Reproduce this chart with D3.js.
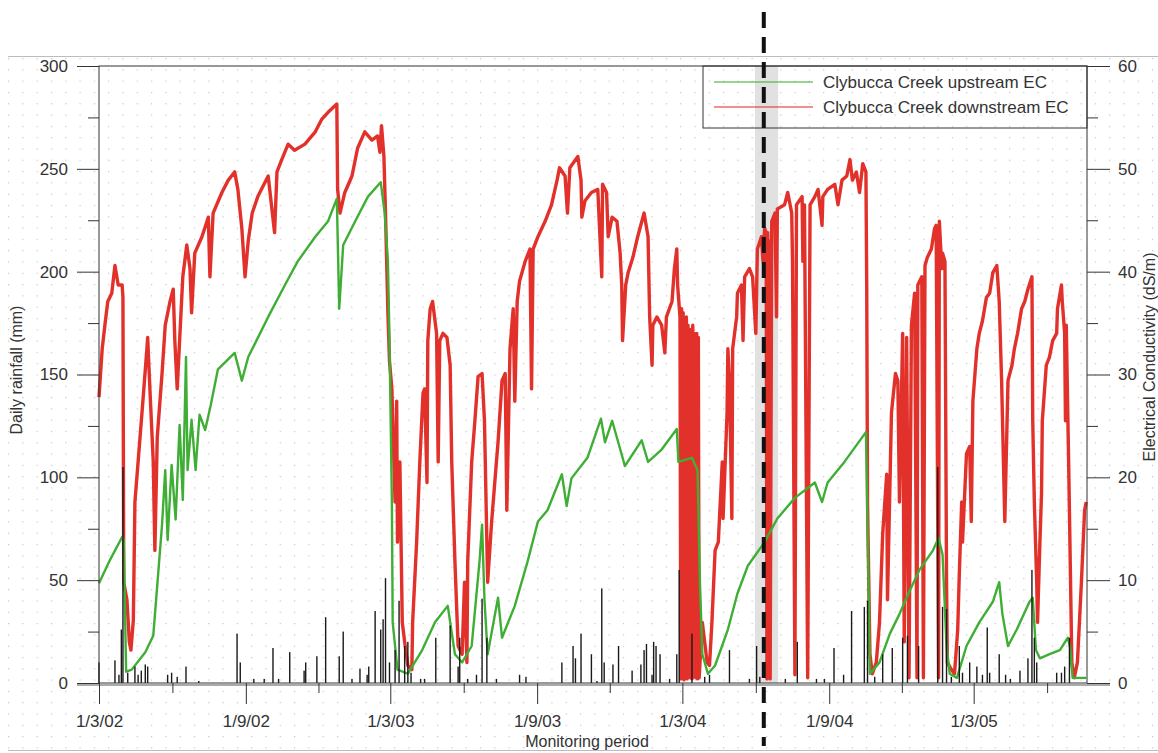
<!DOCTYPE html>
<html lang="en">
<head>
<meta charset="utf-8">
<title>Clybucca Creek EC and daily rainfall</title>
<script src="https://cdn.jsdelivr.net/npm/d3@7"></script>
<style>
  body { margin: 0; background: #fff; }
  text { font-family: Arial, "Liberation Sans", sans-serif; fill: #333; }
</style>
</head>
<body>
<script>
// All series are [days since 1 March 2002, value]

var startDate = new Date(2002, 2, 1);
var endDate = new Date(2005, 6, 21);

// daily rainfall (mm)
var rainfall = [[0,10],[20,11],[25,4],[28,26],[30,105],[36,5],[45,8],[49,4],[53,6],[58,9],[61,8],[86,4],[91,5],[98,3],[109,8],[125,1],
  [173,24],[177,10],[194,2],[207,2],[218,17],[225,2],[239,15],[257,6],[259,10],[273,13],[284,32],[301,13],[306,25],[317,2],[327,7],
  [336,4],[338,8],[346,35],[353,26],[356,31],[359,51],[364,10],[371,16],[376,40],[383,18],[387,20],[391,5],[403,2],[408,2],[422,22],
  [440,28],[450,8],[452,22],[462,2],[473,4],[480,41],[486,22],[498,2],[527,4],[535,3],[580,10],[594,18],[597,12],[604,24],[617,14],
  [624,1],[630,46],[633,10],[644,9],[651,18],[668,6],[679,9],[683,16],[686,19],[693,4],[695,20],[698,18],[703,14],[715,2],[724,14],
  [727,55],[743,24],[759,3],[765,4],[790,16],[815,2],[824,18],[828,3],[860,2],[875,20],[899,2],[909,2],[921,17],[933,4],[943,35],
  [959,37],[963,40],[972,3],[982,14],[994,17],[1007,22],[1013,23],[1027,18],[1051,105],[1057,37],[1062,36],[1068,3],[1078,18],
  [1082,5],[1091,10],[1100,8],[1107,4],[1113,27],[1116,5],[1128,14],[1136,4],[1142,2],[1154,6],[1164,12],[1169,55],[1172,22],
  [1175,10],[1200,5],[1206,5],[1210,8],[1216,22]];

// upstream EC (dS/m)
var upstreamEC = [[0,9.7],[14,12.0],[29,14.2],[31,13.9],[34,1.1],[41,1.3],[58,3.0],[68,4.6],[73,9.5],[79,15.4],[83,20.7],[86,13.9],
  [91,21.2],[96,15.9],[101,25.1],[105,17.8],[109,31.7],[111,20.7],[116,25.6],[121,20.7],[126,26.1],[133,24.6],[140,27.0],[149,30.5],
  [170,32.1],[179,29.4],[187,31.7],[212,35.6],[233,38.7],[249,41.0],[271,43.4],[287,44.9],[298,47.1],[301,36.4],[306,42.6],[321,44.9],
  [337,47.3],[353,48.7],[358,45.7],[362,41.0],[364,33.3],[367,17.6],[368,5.9],[374,1.3],[387,0.9],[405,3.2],[421,5.9],[437,7.5],
  [446,2.8],[455,2.0],[467,3.6],[477,12.0],[480,15.4],[483,8.1],[487,2.8],[500,8.3],[505,4.4],[521,7.5],[537,11.8],[550,15.7],
  [562,16.8],[580,20.3],[586,17.2],[592,19.9],[612,21.9],[629,25.7],[634,23.4],[643,25.5],[659,21.1],[680,23.6],[688,21.5],[705,22.7],
  [724,24.7],[726,21.5],[743,21.9],[750,20.7],[753,9.8],[756,2.8],[763,0.9],[772,1.7],[788,5.2],[800,8.7],[813,11.4],[834,13.7],
  [850,16.0],[872,18.0],[897,19.5],[906,17.6],[913,19.5],[934,21.5],[961,24.4],[963,15.7],[966,0.9],[978,2.0],[991,4.8],[1003,6.7],
  [1016,9.0],[1028,11.0],[1045,12.9],[1052,14.1],[1057,12.5],[1062,3.6],[1066,0.9],[1075,0.5],[1087,3.6],[1103,5.9],[1120,7.9],
  [1128,9.8],[1132,6.7],[1139,3.6],[1150,5.2],[1166,7.9],[1170,8.3],[1174,3.2],[1179,2.4],[1191,2.8],[1204,3.2],[1214,4.4],
  [1217,3.4],[1220,0.5],[1237,0.5]];

// downstream EC (dS/m)
var downstreamEC = [[0,27.8],[4,32.5],[8,35.2],[11,37.1],[16,37.9],[20,40.6],[24,38.7],[29,38.7],[30,37.5],[31,9.8],[35,8.1],[38,4.0],
  [40,3.2],[43,6.1],[45,17.6],[49,21.5],[55,27.4],[60,32.5],[61,33.6],[64,28.2],[68,21.5],[70,12.9],[73,23.9],[79,30.1],[83,34.8],
  [89,37.1],[93,38.3],[95,33.3],[98,28.6],[101,33.3],[105,39.5],[110,42.6],[114,40.3],[116,36.0],[120,41.8],[129,43.4],[137,45.3],
  [139,39.5],[143,45.7],[154,47.7],[162,48.9],[170,49.7],[174,48.0],[179,44.2],[183,39.5],[187,43.0],[192,45.7],[199,47.3],[212,49.3],
  [220,43.8],[223,49.7],[229,50.9],[237,52.4],[245,51.8],[258,52.4],[271,53.6],[279,54.8],[287,55.5],[298,56.3],[299,48.0],[302,45.7],
  [308,47.7],[317,49.3],[324,52.0],[333,53.6],[342,52.8],[349,53.2],[352,51.6],[354,54.2],[357,51.2],[359,45.7],[362,36.0],[364,31.3],
  [367,28.6],[368,25.5],[371,17.6],[373,27.4],[374,13.7],[377,21.5],[380,5.9],[383,4.0],[387,1.7],[392,1.3],[393,5.9],[398,13.7],
  [402,21.5],[406,28.2],[408,28.6],[411,19.5],[412,33.3],[415,36.4],[418,37.1],[423,34.0],[425,21.5],[427,33.3],[431,34.0],[436,33.6],
  [440,30.9],[442,21.5],[446,11.8],[450,3.6],[455,2.8],[458,9.8],[461,2.0],[462,11.8],[467,21.5],[471,25.5],[475,29.8],[480,30.1],
  [483,25.5],[487,9.8],[492,15.7],[498,21.5],[500,23.4],[505,29.4],[509,30.1],[511,16.8],[515,32.5],[519,36.4],[521,27.4],[524,37.1],
  [527,39.1],[534,41.0],[540,42.2],[542,28.6],[544,42.2],[550,43.4],[559,44.9],[567,46.5],[574,48.9],[577,50.1],[584,49.3],[587,45.7],
  [590,50.1],[600,51.2],[604,48.9],[605,45.3],[609,46.9],[617,47.7],[625,48.0],[630,39.5],[631,48.5],[636,47.7],[638,43.4],[643,45.3],
  [649,44.9],[653,41.8],[655,38.7],[656,33.3],[660,38.7],[663,39.9],[669,41.4],[675,43.4],[683,45.7],[688,43.4],[690,35.6],[693,30.9],
  [694,34.8],[699,35.6],[705,34.8],[709,32.1],[711,35.6],[718,37.1],[721,40.3],[724,42.2],[725,38.7],[728,35.6],[729,0.4],[730,36.4],
  [731,0.5],[732,36.0],[733,0.3],[734,35.2],[735,0.6],[736,35.6],[737,0.4],[738,34.8],[739,30.1],[740,28.2],[741,0.5],[742,34.4],
  [743,0.4],[744,34.8],[745,0.6],[746,34.0],[747,33.6],[748,0.5],[749,34.0],[750,0.4],[751,33.6],[752,0.5],[756,5.9],[762,2.0],
  [765,1.7],[768,5.9],[772,12.9],[776,13.7],[781,21.5],[782,16.0],[787,26.3],[788,32.5],[790,29.4],[793,16.0],[794,32.5],[799,35.6],
  [800,37.9],[805,38.7],[807,33.3],[809,39.5],[815,40.3],[819,39.5],[823,34.0],[825,42.2],[830,43.4],[832,41.0],[834,44.2],[836,43.8],
  [837,0.4],[838,43.8],[839,0.5],[840,43.0],[841,0.4],[843,44.9],[847,45.7],[849,35.6],[850,46.1],[859,46.5],[863,47.7],[868,45.7],
  [869,41.0],[872,0.8],[874,46.5],[881,47.3],[882,41.0],[884,46.5],[888,0.5],[891,46.5],[897,47.3],[901,48.0],[906,44.5],[907,47.3],
  [913,48.0],[922,48.5],[926,46.5],[931,48.9],[937,49.3],[941,50.9],[944,48.9],[949,49.7],[953,47.7],[957,50.5],[961,49.7],[962,38.3],
  [963,17.6],[966,2.8],[969,0.9],[974,2.0],[978,5.9],[982,14.5],[987,20.3],[988,8.1],[993,26.3],[998,30.1],[1001,29.4],[1003,17.6],
  [1007,34.0],[1009,4.0],[1012,33.6],[1015,0.5],[1018,34.8],[1022,37.9],[1025,0.5],[1026,38.7],[1031,39.5],[1033,0.5],[1035,40.6],
  [1038,41.4],[1043,42.2],[1047,44.2],[1049,44.5],[1052,0.5],[1053,44.9],[1056,40.3],[1057,41.8],[1060,41.0],[1062,9.8],[1063,2.0],
  [1068,1.3],[1072,0.9],[1076,5.2],[1078,10.6],[1081,17.6],[1082,13.7],[1087,22.3],[1091,23.0],[1093,15.7],[1095,27.4],[1100,32.5],
  [1103,34.0],[1107,35.2],[1112,37.5],[1116,37.9],[1120,39.9],[1125,40.6],[1128,37.1],[1131,29.4],[1135,15.7],[1139,29.4],[1144,30.9],
  [1147,32.5],[1151,34.0],[1156,36.4],[1160,37.1],[1164,38.3],[1169,39.5],[1170,25.5],[1172,17.6],[1175,9.8],[1176,5.9],[1179,13.7],
  [1181,18.4],[1182,25.5],[1187,30.9],[1191,31.7],[1195,33.3],[1200,34.0],[1201,36.4],[1206,38.7],[1207,37.1],[1210,34.0],[1211,25.5],
  [1212,34.8],[1215,21.5],[1219,2.0],[1222,0.5],[1226,2.0],[1231,9.8],[1235,16.8],[1237,17.6]];

var rainTicks = [0, 50, 100, 150, 200, 250, 300];
var rainMinorTicks = [25, 75, 125, 175, 225, 275];
var ecTicks = [0, 10, 20, 30, 40, 50, 60];
var ecMinorTicks = [5, 15, 25, 35, 45, 55];
var dateTicks = ["2002-03-01", "2002-09-01", "2003-03-01", "2003-09-01", "2004-03-01", "2004-09-01", "2005-03-01"];
var dateMinorTicks = ["2002-06-01", "2002-12-01", "2003-06-01", "2003-12-01", "2004-06-01", "2004-12-01", "2005-06-01"];
var seriesNames = ["Clybucca Creek upstream EC", "Clybucca Creek downstream EC"];

// the marked event and the grey period around it
var eventDate = new Date(2004, 5, 11);
var shadeStart = new Date(2004, 4, 31);
var shadeEnd = new Date(2004, 5, 29);

var w = 1158, h = 753;
// plot box (note: "top" is reserved by window, so use plot* names)
var plotL = 99, plotR = 1087, plotT = 66, plotB = 683;
var upColor = "#3fae35", downColor = "#e2312b";

var parseDay = d3.timeParse("%Y-%m-%d");
function toDate(d) { return d3.timeDay.offset(startDate, d); }

var x = d3.scaleTime().domain([startDate, endDate]).range([plotL, plotR]);
var yRain = d3.scaleLinear().domain([0, 300]).range([plotB, plotT]);
var yEC = d3.scaleLinear().domain([0, 60]).range([plotB, plotT]);

var svg = d3.select("body").append("svg")
  .attr("width", w)
  .attr("height", h);

// dotted paper
var pat = svg.append("defs").append("pattern")
  .attr("id", "dots")
  .attr("patternUnits", "userSpaceOnUse")
  .attr("x", 8).attr("y", 58)
  .attr("width", 14.3).attr("height", 11.3);
pat.append("rect").attr("width", 1.2).attr("height", 1.2).attr("fill", "#c4c4c4");

svg.append("rect").attr("width", w).attr("height", h).attr("fill", "#fff");
svg.append("rect").attr("x", 8).attr("y", 57).attr("width", w - 8).attr("height", 693).attr("fill", "url(#dots)");
svg.append("line").attr("x1", 8).attr("x2", w).attr("y1", 56.5).attr("y2", 56.5).attr("stroke", "#bcbcbc");
svg.append("line").attr("x1", 8).attr("x2", w).attr("y1", 750.5).attr("y2", 750.5).attr("stroke", "#bcbcbc");

// grey period
svg.append("rect")
  .attr("x", x(shadeStart))
  .attr("y", plotT)
  .attr("width", x(shadeEnd) - x(shadeStart))
  .attr("height", plotB - plotT)
  .attr("fill", "#d9d9d9")
  .attr("opacity", 0.8);

// EC lines (logger traces are noisy, so they are drawn heavy)
var line = d3.line()
  .x(function(d) { return x(toDate(d[0])); })
  .y(function(d) { return yEC(d[1]); });

svg.append("path").datum(downstreamEC)
  .attr("d", line)
  .attr("fill", "none")
  .attr("stroke", downColor)
  .attr("stroke-width", 3.4)
  .attr("stroke-linejoin", "round");

svg.append("path").datum(upstreamEC)
  .attr("d", line)
  .attr("fill", "none")
  .attr("stroke", upColor)
  .attr("stroke-width", 2.4)
  .attr("stroke-linejoin", "round");

// rainfall bars
svg.append("g").selectAll("rect")
  .data(rainfall)
  .enter()
  .append("rect")
  .attr("x", function(d) { return x(toDate(d[0])) - 0.7; })
  .attr("y", function(d) { return yRain(d[1]); })
  .attr("width", 1.4)
  .attr("height", function(d) { return plotB - yRain(d[1]); })
  .attr("fill", "#1a1a1a");

// frame
svg.append("rect")
  .attr("x", plotL).attr("y", plotT)
  .attr("width", plotR - plotL).attr("height", plotB - plotT)
  .attr("fill", "none")
  .attr("stroke", "#333");
svg.append("line").attr("x1", 77).attr("x2", 1110).attr("y1", plotB + 2).attr("y2", plotB + 2)
  .attr("stroke", "#aaa").attr("stroke-width", 2);

function styleAxis(g) {
  g.select(".domain").remove();
  g.selectAll(".tick line").attr("stroke", "#333");
  g.selectAll(".tick text").style("font-size", "17px").attr("fill", "#333");
}

svg.append("g").attr("transform", "translate(" + plotL + ",0)")
  .call(d3.axisLeft(yRain).tickValues(rainTicks).tickSize(22).tickPadding(9))
  .call(styleAxis);
svg.append("g").attr("transform", "translate(" + plotL + ",0)")
  .call(d3.axisLeft(yRain).tickValues(rainMinorTicks).tickSize(11).tickFormat(""))
  .call(styleAxis);
svg.append("g").attr("transform", "translate(" + plotR + ",0)")
  .call(d3.axisRight(yEC).tickValues(ecTicks).tickSize(23).tickPadding(8))
  .call(styleAxis);
svg.append("g").attr("transform", "translate(" + plotR + ",0)")
  .call(d3.axisRight(yEC).tickValues(ecMinorTicks).tickSize(11).tickFormat(""))
  .call(styleAxis);
svg.append("g").attr("transform", "translate(0," + plotB + ")")
  .call(d3.axisBottom(x).tickValues(dateTicks.map(parseDay)).tickSize(21).tickPadding(11)
    .tickFormat(d3.timeFormat("%-d/%-m/%y")))
  .call(styleAxis);
svg.append("g").attr("transform", "translate(0," + plotB + ")")
  .call(d3.axisBottom(x).tickValues(dateMinorTicks.map(parseDay)).tickSize(10).tickFormat(""))
  .call(styleAxis);

// axis titles
svg.append("text")
  .attr("transform", "translate(22,370) rotate(-90)")
  .attr("text-anchor", "middle")
  .style("font-size", "16px")
  .text("Daily rainfall (mm)");
svg.append("text")
  .attr("transform", "translate(1155,357) rotate(-90)")
  .attr("text-anchor", "middle")
  .style("font-size", "16px")
  .text("Electrical Conductivity (dS/m)");
svg.append("text")
  .attr("x", 587).attr("y", 747)
  .attr("text-anchor", "middle")
  .style("font-size", "16px")
  .text("Monitoring period");

// legend
var legend = svg.append("g");
legend.append("rect")
  .attr("x", 703).attr("y", plotT)
  .attr("width", plotR - 703).attr("height", 62)
  .attr("fill", "none")
  .attr("stroke", "#333");
[upColor, downColor].forEach(function(c, i) {
  legend.append("line")
    .attr("x1", 714).attr("x2", 813)
    .attr("y1", 82 + i * 25).attr("y2", 82 + i * 25)
    .attr("stroke", c).attr("stroke-width", 1.3).attr("opacity", 0.7);
  legend.append("text")
    .attr("x", 823).attr("y", 88 + i * 25)
    .style("font-size", "17px")
    .text(seriesNames[i]);
});

// event marker
svg.append("line")
  .attr("x1", x(eventDate)).attr("x2", x(eventDate))
  .attr("y1", 12).attr("y2", 746)
  .attr("stroke", "#111")
  .attr("stroke-width", 4)
  .attr("stroke-dasharray", "16,9");
</script>
</body>
</html>
